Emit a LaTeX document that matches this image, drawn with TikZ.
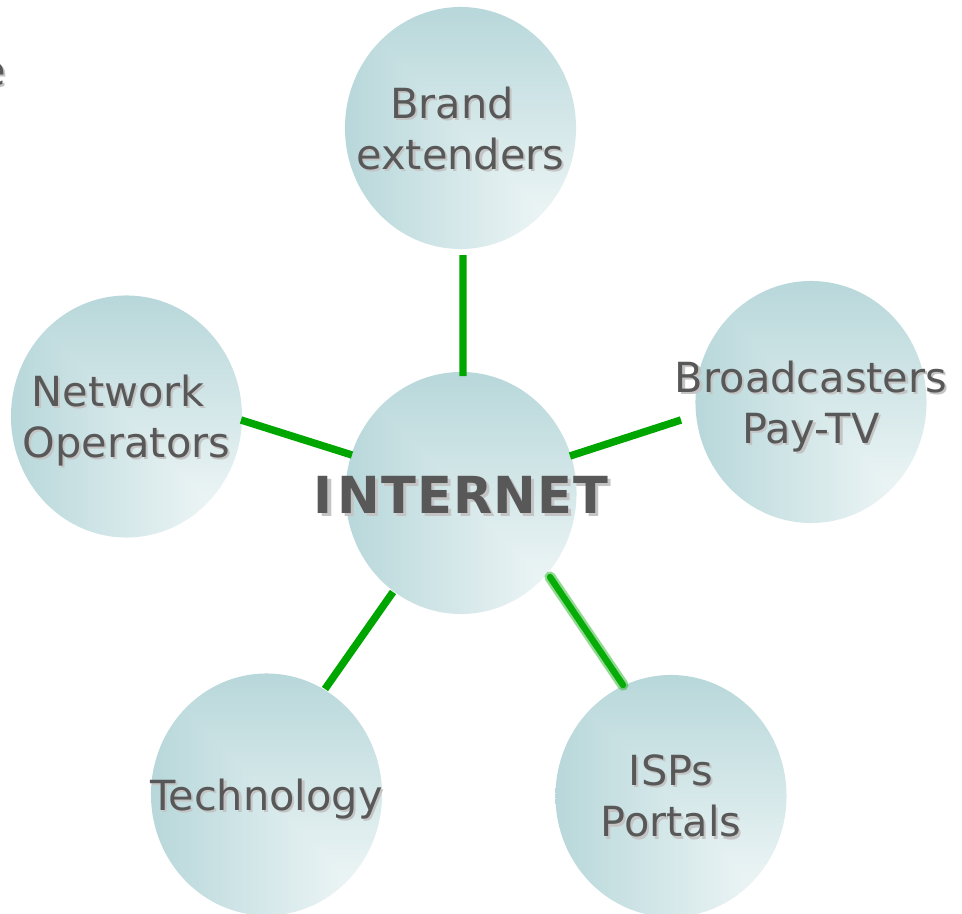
\documentclass[tikz,border=0pt]{standalone}
\usepackage{fontspec}
\setmainfont{DejaVu Sans}
\newfontfamily\inetfont[LetterSpace=2]{DejaVu Sans}
\usetikzlibrary{shapes.geometric,calc}
\definecolor{txtgray}{RGB}{88,88,88}
\definecolor{shgray}{RGB}{196,196,196}
\definecolor{linkgreen}{RGB}{0,166,0}
\definecolor{fuzzgreen}{RGB}{40,180,40}
\definecolor{fuzzcore}{RGB}{8,172,8}
\pgfdeclarefunctionalshading{cornerfade}{\pgfpointorigin}{\pgfpoint{100bp}{100bp}}{}{
  exch 100 exch sub
  2 copy lt {exch} if pop
  18 sub 62 div dup 0 lt {pop 0} if dup 1 gt {pop 1} if
  dup 0.292 mul 0.99 exch sub
  exch dup 0.164 mul 0.995 exch sub
  exch 0.152 mul 0.995 exch sub
}
\newcommand\shtext[1]{\leavevmode\rlap{\kern1.5pt\raisebox{-1.5pt}{\color{shgray}#1}}#1}
\newcommand\shtextbig[1]{\leavevmode\rlap{\kern2.2pt\raisebox{-2.2pt}{\color{shgray}#1}}#1}
\tikzset{
  bubble/.style={ellipse, minimum width=5.775cm, minimum height=6.05cm, inner sep=0pt, shading=cornerfade, draw=none},
  btext/.style={font=\fontsize{29.5}{36.3}\selectfont, text=txtgray, align=center, text depth=0pt, inner sep=0pt},
  conn/.style={draw=linkgreen, line width=5.3pt},
  fuzzout/.style={draw=fuzzgreen, opacity=0.5, line width=8pt, line cap=round},
  fuzzin/.style={draw=fuzzcore, line width=4.6pt, line cap=round},
}
\begin{document}
\begin{tikzpicture}[x=0.025cm, y=-0.025cm]
\useasboundingbox (0,0) rectangle (962,914);
\node[bubble, label={[btext]center:{\shtext{Brand}\rule{12pt}{0pt}\\\shtext{extenders}}}] (brand) at (460.5,128) {};
\node[bubble, label={[btext]center:{\shtext{Network}\rule{12pt}{0pt}\\\shtext{Operators}}}] (netop) at (126.5,416.5) {};
\node[bubble, label={[btext]center:{\shtext{Broadcasters}\\\shtext{Pay-TV}}}] (broad) at (811,402) {};
\node[bubble, label={[btext, font=\inetfont\bfseries\fontsize{36.3}{40}\selectfont, yshift=-0.05cm]center:{\shtextbig{I\kern3.5pt NTERNET}}}] (inet) at (461,493) {};
\node[bubble, label={[btext]center:{\shtext{Technology}}}] (tech) at (266.5,794.5) {};
\node[bubble, label={[btext]center:{\shtext{ISPs}\\\shtext{Portals}}}] (isp) at (671,796) {};
\node[btext, anchor=east] (efrag) at (6,74) {\shtext{e}};
\draw[conn] ($(brand.center)+(2.5,127)$) -- ($(inet.center)+(2,-117)$);
\draw[conn] ($(netop.center)+(114.5,3.5)$) -- ($(inet.center)+(-109,-38)$);
\draw[conn] ($(inet.center)+(109,-37)$) -- ($(broad.center)+(-130,18)$);
\draw[conn] ($(inet.center)+(-68,99)$) -- ($(tech.center)+(58.5,-105.5)$);
\draw[fuzzout] ($(inet.center)+(89,84)$) -- ($(isp.center)+(-48,-111)$);
\draw[fuzzin] ($(inet.center)+(89,84)$) -- ($(isp.center)+(-48,-111)$);
\end{tikzpicture}
\end{document}
